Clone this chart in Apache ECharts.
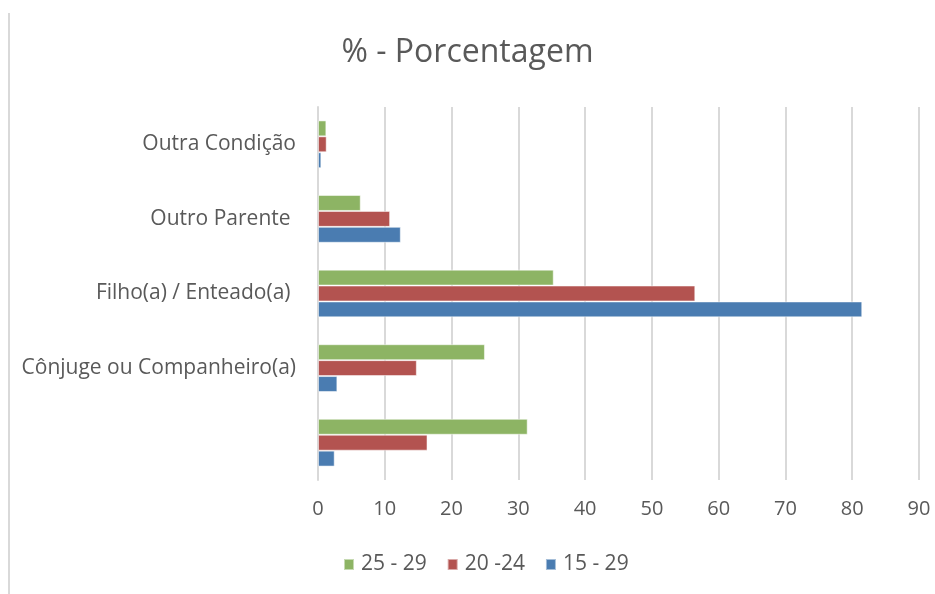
<!DOCTYPE html>
<html>
<head>
<meta charset="utf-8">
<script src="https://cdn.jsdelivr.net/npm/echarts@6/dist/echarts.min.js"></script>
<style>
  html, body { margin: 0; padding: 0; background: #fff; }
  #main { width: 935px; height: 594px; }
</style>
</head>
<body>
<div id="main"></div>
<script>
// categorias (de baixo para cima)
var categorias = ['', 'Cônjuge ou Companheiro(a)', 'Filho(a) / Enteado(a) ', 'Outro Parente ', 'Outra Condição'];
var nomesSeries = ['25 - 29', '20 -24', '15 - 29'];
var valores2529 = [31.4, 25.0, 35.3, 6.4, 1.25];
var valores2024 = [16.4, 14.8, 56.5, 10.8, 1.3];
var valores1529 = [2.5, 2.9, 81.5, 12.4, 0.5];
var ticksX = [0, 10, 20, 30, 40, 50, 60, 70, 80, 90];

var cores = ['#8db464', '#b35350', '#4a7cb1'];
var fonte = 'Open Sans';
var corTexto = '#595959';

function serie(nome, dados, cor) {
  return {
    name: nome,
    type: 'bar',
    data: dados,
    barGap: '0%',
    barCategoryGap: '36%',
    itemStyle: { color: cor, borderColor: 'rgba(255,255,255,0.5)', borderWidth: 1 }
  };
}

var chartDom = document.getElementById('main');
var myChart = echarts.init(chartDom);

var option = {
  backgroundColor: '#FFFFFF',
  animation: false,
  title: {
    text: '% - Porcentagem',
    left: 'center',
    top: 32,
    textStyle: { fontFamily: fonte, fontSize: 32, fontWeight: 'normal', color: corTexto }
  },
  legend: {
    data: nomesSeries,
    top: 549,
    left: 338,
    itemWidth: 10,
    itemHeight: 11,
    itemGap: 20,
    icon: 'rect',
    textStyle: { fontFamily: fonte, fontSize: 21, color: corTexto, padding: [0, 0, 0, 2] }
  },
  grid: { left: 318, right: 16, top: 107, bottom: 114 },
  xAxis: {
    type: 'value',
    min: ticksX[0],
    max: ticksX[ticksX.length - 1],
    interval: 10,
    axisLine: { show: false },
    axisTick: { show: false },
    splitLine: { lineStyle: { color: '#d9d9d9', width: 2 } },
    axisLabel: { fontFamily: fonte, fontSize: 20, color: corTexto, margin: 19 }
  },
  yAxis: {
    type: 'category',
    data: categorias,
    axisLine: { lineStyle: { color: '#d9d9d9', width: 2 } },
    axisTick: { show: false },
    axisLabel: { fontFamily: fonte, fontSize: 21, color: corTexto, margin: 22 }
  },
  graphic: [{
    type: 'line',
    shape: { x1: 9, y1: 13, x2: 9, y2: 594 },
    style: { stroke: '#d9d9d9', lineWidth: 2 }
  }],
  series: [
    serie(nomesSeries[0], valores2529, cores[0]),
    serie(nomesSeries[1], valores2024, cores[1]),
    serie(nomesSeries[2], valores1529, cores[2])
  ]
};

option && myChart.setOption(option);
</script>
</body>
</html>
